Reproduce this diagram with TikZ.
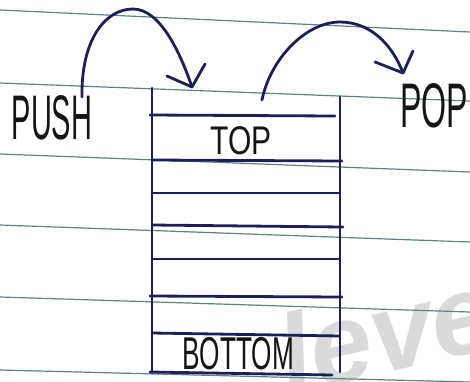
\documentclass[tikz,border=0pt]{standalone}
\usepackage{fontspec}
\setmainfont{Liberation Sans}
\usepackage{graphicx}
\definecolor{ink}{HTML}{1C1F5A}
\definecolor{pen}{HTML}{151515}
\definecolor{rule}{HTML}{5A8582}
\definecolor{wm}{HTML}{DADADA}
\tikzset{
  ruled/.style={draw=rule, line width=1.2pt},
  stackline/.style={draw=ink, line width=2.8pt, line cap=round},
  curvearrow/.style={draw=ink, line width=2.8pt, line cap=round, line join=round},
  hand/.style={text=pen, inner sep=0pt},
}
\begin{document}
\begin{tikzpicture}[x=1pt,y=-1pt]
\useasboundingbox (0,0) rectangle (470,381);
\fill[white] (0,0) rectangle (470,381);
% watermark
\begin{scope}
\clip (0,0) rectangle (470,381);
\node[text=wm, anchor=base west, rotate=13, inner sep=0pt,
      font=\fontsize{112}{112}\bfseries\itshape\selectfont] (wmark) at (288,396) {leve};
\end{scope}
% ruled paper lines
\draw[ruled] (0,10) -- (470,32);
\draw[ruled] (0,83) -- (470,101);
\draw[ruled] (0,154) -- (470,172);
\draw[ruled] (0,225) -- (470,242);
\draw[ruled] (0,297) -- (470,312);
\draw[ruled] (0,370) -- (470,382);
% stack
\coordinate (lt) at (152,88);  \coordinate (lb) at (152,373);
\coordinate (rt) at (340,97);  \coordinate (rb) at (340,372);
\draw[stackline] (lt) -- (lb);
\draw[stackline] (rt) -- (rb);
\draw[stackline] (150,115) -- (335,116);
\draw[stackline] (152,160) -- (342,161);
\draw[stackline] (152,193) -- (340,193);
\draw[stackline] (152,225) -- (343,227);
\draw[stackline] (152,259) -- (340,259);
\draw[stackline] (150,296) -- (342,297);
\draw[stackline] (152,333) -- (340,336);
\draw[stackline] (150,372) -- (332,375);
% labels
\node[hand, font=\fontsize{63}{63}\selectfont] (push) at (52,118) {\scalebox{0.46}[1]{PUSH}};
\node[hand, font=\fontsize{63}{63}\selectfont] (pop) at (434,106) {\scalebox{0.51}[1]{POP}};
\node[hand, font=\fontsize{40}{40}\selectfont] (top) at (241,141) {\scalebox{0.75}[1]{TOP}};
\node[hand, font=\fontsize{46}{46}\selectfont] (bottom) at (238,354) {\scalebox{0.57}[1]{BOTTOM}};
% push arrow
\coordinate (pushstart) at (82,97);
\coordinate (pushpeak) at (133,9);
\coordinate (pushtip) at (192,87);
\coordinate (pusharmA) at (167,76);
\coordinate (pusharmB) at (205,64);
\draw[curvearrow] (pushstart) .. controls (81,40) and (105,9) .. (pushpeak)
  .. controls (160,9) and (180,52) .. (pushtip);
\draw[curvearrow] (pusharmA) -- (pushtip) -- (pusharmB);
% pop arrow
\coordinate (popstart) at (262,100);
\coordinate (poppeak) at (340,22);
\coordinate (poptip) at (403,73);
\coordinate (poparmA) at (375,62);
\coordinate (poparmB) at (413,51);
\draw[curvearrow] (popstart) .. controls (270,60) and (305,22) .. (poppeak)
  .. controls (370,22) and (392,44) .. (poptip);
\draw[curvearrow] (poparmA) -- (poptip) -- (poparmB);
\end{tikzpicture}
\end{document}
